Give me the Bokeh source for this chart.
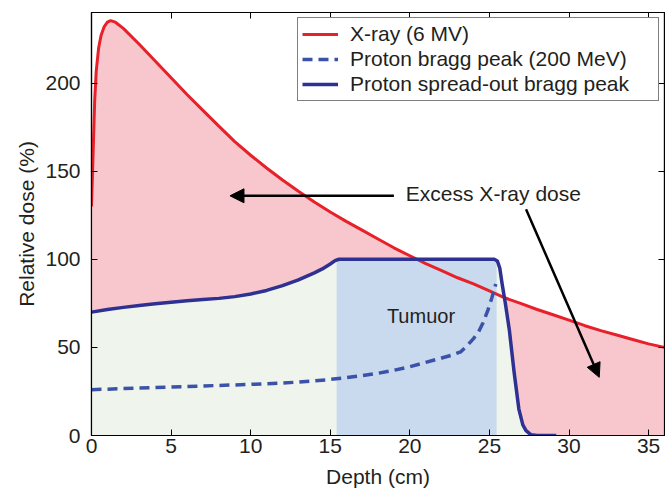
from bokeh.plotting import figure
from bokeh.models import (Range1d, LinearAxis, FixedTicker, Arrow, NormalHead,
                          Legend, LegendItem, Label)
from bokeh.embed import file_html
from bokeh.resources import INLINE

# ---------------- data ----------------
depth_xray = [0, 0.1, 0.2, 0.3, 0.45, 0.6, 0.8, 1.0, 1.2, 1.5, 2, 3, 4, 5, 6, 7, 8, 9,
              10, 11, 12, 13, 14, 15, 16, 17, 18, 19, 20, 21, 22, 23, 24, 25, 26,
              27, 28, 29, 30, 31, 32, 33, 34, 35, 36]
dose_xray = [130, 160, 190, 207, 220, 227, 232, 234.5, 235.4, 234.5, 231, 222, 212.5,
             203, 193.5, 184.5, 175.5, 166.7, 159, 151.8, 145, 138.6, 132.5, 126.8,
             121.5, 116.5, 111.5, 106.5, 102, 97.5, 93.5, 89.5, 86, 82, 78, 74.8, 71.5,
             68.5, 65.5, 62.3, 59.5, 57, 54.5, 52, 50]

depth_sobp = [0, 1, 2, 3, 4, 5, 6, 7, 8, 9, 10, 11, 12, 13, 13.5, 14, 14.5, 15, 15.3,
              15.55, 16, 18, 20, 22, 24, 25.3, 25.5, 25.65, 25.8, 26.0, 26.25, 26.55,
              26.85, 27.1, 27.3, 27.6, 28.0, 29.2]
dose_sobp = [70, 71.5, 72.7, 73.8, 74.8, 75.6, 76.4, 77.1, 77.8, 78.8, 80.3, 82.3, 85,
             88.3, 90.3, 92.3, 94.5, 97.3, 99.2, 100, 100, 100, 100, 100, 100, 100, 99,
             95, 86, 75, 60, 36, 15, 6, 2.8, 0.5, 0, 0]

depth_bragg = [0, 2, 4, 6, 8, 10, 12, 13, 14, 15, 16, 17, 18, 19, 20, 21, 22, 22.6,
               23.2, 23.6, 24.0, 24.3, 24.6, 24.9, 25.15, 25.4]
dose_bragg = [26, 26.6, 27.2, 27.8, 28.4, 29, 29.8, 30.3, 31, 31.8, 32.8, 34, 35.3, 37,
              39, 41.5, 44, 45.5, 47.5, 51, 55, 58.5, 64, 71, 78, 86]

tumour_left = [15.4]
tumour_right = [25.45]
tumour_bottom = [0]
tumour_top = [100]

x_ticks = [0, 5, 10, 15, 20, 25, 30, 35]
y_ticks = [0, 50, 100, 150, 200]

legend_labels = ["X-ray (6 MV)", "Proton bragg peak (200 MeV)",
                 "Proton spread-out bragg peak"]

# annotation anchors (data units)
excess_text_pos = (19.75, 137.5)
tumour_text_pos = (20.7, 68)
arrow1 = (19.0, 136, 8.7, 136)
arrow2 = (27.3, 128.4, 31.9, 33.0)

FONT = "Liberation Sans"
TXT = "#231f20"
RED = "#e8202a"
DASH_BLUE = "#3a52a8"
NAVY = "#2e3192"
PINK = "#f8c7cd"
GREEN = "#eff5ed"
BLUE = "#c9d9ee"

p = figure(width=665, height=490, output_backend="svg", toolbar_location=None,
           x_range=Range1d(0, 36), y_range=Range1d(0, 240),
           min_border_left=91, min_border_right=1, min_border_top=12,
           min_border_bottom=0, background_fill_color="white",
           border_fill_color="white")
p.grid.visible = False
p.outline_line_color = "black"
p.outline_line_width = 1.2

# fills
p.varea(x=depth_xray, y1=[0] * len(depth_xray), y2=dose_xray, fill_color=PINK)
p.varea(x=depth_sobp, y1=[0] * len(depth_sobp), y2=dose_sobp, fill_color=GREEN)
p.quad(left=tumour_left, right=tumour_right, bottom=tumour_bottom, top=tumour_top,
       fill_color=BLUE, line_color=None)

# lines
r_xray = p.line(depth_xray, dose_xray, line_color=RED, line_width=3)
r_bragg = p.line(depth_bragg, dose_bragg, line_color=DASH_BLUE, line_width=3.5,
                 line_dash="10 6")
r_sobp = p.line(depth_sobp, dose_sobp, line_color=NAVY, line_width=3.5,
                line_join="round")

# axes
xa = p.xaxis[0]
ya = p.yaxis[0]
for ax, ticks in ((xa, x_ticks), (ya, y_ticks)):
    ax.ticker = FixedTicker(ticks=ticks)
    ax.major_tick_in = 6
    ax.major_tick_out = 0
    ax.minor_tick_line_color = None
    ax.axis_line_color = "black"
    ax.axis_line_width = 1.2
    ax.major_tick_line_color = "black"
    ax.major_label_text_font = FONT
    ax.major_label_text_font_size = "21px"
    ax.major_label_text_color = TXT
    ax.axis_label_text_font = FONT
    ax.axis_label_text_font_size = "21px"
    ax.axis_label_text_font_style = "normal"
    ax.axis_label_text_color = TXT
xa.axis_label = "Depth (cm)"
ya.axis_label = "Relative dose (%)"
xa.major_label_standoff = 3
xa.axis_label_standoff = 9
ya.major_label_standoff = 11
ya.axis_label_standoff = 4

for loc, ticks in (("above", x_ticks), ("right", y_ticks)):
    ax = LinearAxis(ticker=FixedTicker(ticks=ticks), major_tick_in=6, major_tick_out=0,
                    minor_tick_line_color=None, major_label_text_font_size="0px",
                    major_label_text_color=None, major_label_standoff=0,
                    axis_line_color="black", axis_line_width=1.2)
    p.add_layout(ax, loc)

# annotations
p.add_layout(Arrow(end=NormalHead(size=14, fill_color="black", line_color="black"),
                   x_start=arrow1[0], y_start=arrow1[1], x_end=arrow1[2],
                   y_end=arrow1[3], line_width=2.5, line_color="black"))
p.add_layout(Arrow(end=NormalHead(size=14, fill_color="black", line_color="black"),
                   x_start=arrow2[0], y_start=arrow2[1], x_end=arrow2[2],
                   y_end=arrow2[3], line_width=2.5, line_color="black"))
p.add_layout(Label(x=excess_text_pos[0], y=excess_text_pos[1], text="Excess X-ray dose",
                   text_font=FONT, text_font_size="21px", text_color=TXT,
                   text_align="left", text_baseline="middle"))
p.add_layout(Label(x=tumour_text_pos[0], y=tumour_text_pos[1], text="Tumuor",
                   text_font=FONT, text_font_size="20px", text_color=TXT,
                   text_align="center", text_baseline="middle"))

legend = Legend(items=[LegendItem(label=legend_labels[0], renderers=[r_xray]),
                       LegendItem(label=legend_labels[1], renderers=[r_bragg]),
                       LegendItem(label=legend_labels[2], renderers=[r_sobp])],
                location="top_right", margin=5, padding=4, spacing=1,
                glyph_width=36, label_standoff=12, label_width=304,
                label_text_font=FONT, label_text_font_size="21px",
                label_text_color=TXT, border_line_color="black",
                border_line_width=1.2, background_fill_alpha=1.0)
p.add_layout(legend)

open("out.html", "w").write(file_html(p, INLINE))
